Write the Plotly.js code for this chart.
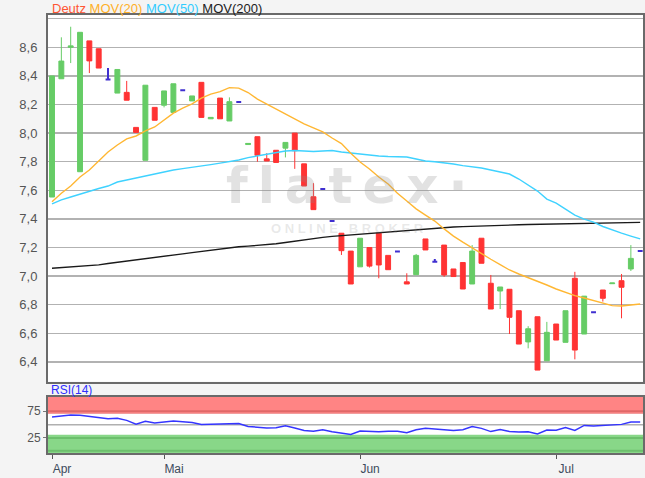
<!DOCTYPE html>
<html>
<head>
<meta charset="utf-8">
<script src="https://cdn.plot.ly/plotly-3.0.1.min.js"></script>
<style>
  html, body { margin: 0; padding: 0; background: #f4f4f4; }
  #chart { width: 645px; height: 478px; }
</style>
</head>
<body>
<div id="chart"></div>
<script>
// ---- data (trading-day index 0..63) ----
const openP  = [7.553,8.38,8.60,7.73,8.645,8.59,8.375,8.28,8.285,8.04,7.81,8.18,8.195,8.145,8.30,8.225,8.355,8.10,8.245,8.085,8.218,7.92,7.975,7.82,7.88,7.895,8.00,7.785,7.555,7.61,7.385,7.30,7.175,7.065,7.20,7.30,7.145,7.173,6.96,7.01,7.26,7.10,7.217,7.05,7.095,6.945,7.265,6.95,6.896,6.908,6.758,6.54,6.716,6.408,6.665,6.537,6.985,6.595,6.747,6.903,6.947,6.968,7.05,7.176];
const highP  = [8.40,8.67,8.744,8.705,8.645,8.59,8.455,8.445,8.365,8.04,8.335,8.18,8.295,8.345,8.30,8.26,8.355,8.11,8.245,8.25,8.218,7.928,7.975,7.86,7.88,7.935,8.00,7.785,7.65,7.61,7.385,7.30,7.175,7.265,7.20,7.30,7.145,7.173,7.02,7.155,7.26,7.12,7.217,7.05,7.095,7.217,7.265,7.008,6.924,6.908,6.758,6.65,6.716,6.68,6.665,6.758,7.03,6.86,6.747,6.903,6.952,7.015,7.217,7.176];
const lowP   = [7.553,8.38,8.49,7.73,8.42,8.455,8.375,8.28,8.23,8.005,7.81,8.09,8.18,8.145,8.30,8.225,8.11,8.10,8.10,8.085,8.218,7.92,7.80,7.805,7.795,7.83,7.75,7.63,7.465,7.61,7.385,7.148,6.945,7.065,7.06,6.985,7.045,7.173,6.945,7.01,7.183,7.10,6.995,6.997,6.91,6.945,7.09,6.77,6.77,6.595,6.525,6.495,6.343,6.408,6.553,6.537,6.418,6.595,6.747,6.822,6.947,6.705,7.036,7.176];
const closeP = [8.40,8.504,8.61,8.705,8.505,8.455,8.375,8.445,8.23,8.005,8.335,8.09,8.295,8.345,8.30,8.26,8.11,8.11,8.10,8.22,8.218,7.928,7.845,7.805,7.795,7.935,7.877,7.63,7.465,7.61,7.385,7.178,6.945,7.265,7.07,7.078,7.045,7.173,6.945,7.145,7.183,7.10,7.008,6.997,6.91,7.175,7.09,6.77,6.924,6.712,6.525,6.632,6.343,6.607,6.553,6.758,6.483,6.86,6.747,6.845,6.952,6.922,7.124,7.176];

const mov20  = [7.52,7.58,7.63,7.693,7.742,7.805,7.868,7.917,7.96,7.98,8.015,8.043,8.092,8.14,8.175,8.204,8.245,8.273,8.29,8.318,8.315,8.284,8.238,8.204,8.168,8.134,8.10,8.064,8.036,8.008,7.966,7.927,7.86,7.798,7.749,7.693,7.644,7.58,7.525,7.47,7.427,7.385,7.33,7.28,7.238,7.196,7.16,7.118,7.081,7.043,7.015,6.99,6.966,6.938,6.91,6.885,6.864,6.847,6.829,6.812,6.794,6.791,6.798,6.805];
const mov50  = [7.505,7.533,7.553,7.574,7.595,7.613,7.63,7.658,7.672,7.686,7.70,7.714,7.731,7.742,7.752,7.763,7.773,7.78,7.79,7.801,7.812,7.829,7.84,7.854,7.864,7.875,7.878,7.875,7.871,7.875,7.878,7.868,7.86,7.854,7.847,7.84,7.836,7.835,7.833,7.819,7.805,7.80,7.794,7.784,7.773,7.765,7.756,7.742,7.728,7.714,7.679,7.637,7.595,7.539,7.511,7.469,7.427,7.399,7.378,7.347,7.322,7.301,7.28,7.26];
const mov200 = [7.055,7.059,7.063,7.067,7.071,7.079,7.088,7.097,7.107,7.116,7.124,7.132,7.14,7.148,7.156,7.164,7.173,7.182,7.19,7.198,7.205,7.21,7.214,7.218,7.226,7.235,7.245,7.255,7.264,7.271,7.278,7.283,7.289,7.295,7.302,7.308,7.313,7.318,7.322,7.328,7.332,7.336,7.34,7.343,7.346,7.349,7.352,7.354,7.356,7.358,7.359,7.361,7.362,7.364,7.365,7.367,7.368,7.369,7.37,7.372,7.373,7.374,7.375,7.376];
const rsi14  = [64.5,66.5,68,67.5,65.5,63,61.2,62,58,51,56.5,53,55,57,55.5,54,50.2,50.4,50.7,51.5,52.2,46.5,44.5,43.8,44,48,43.8,39,37.5,40.5,36.5,33.5,31.5,38,37,36.5,37.5,37.5,35,40.5,43.3,41.5,40,39,40.5,46.3,43,37,41,37,36,36.8,32.5,40,39.5,44.5,39,48.5,47.5,48.5,50,50.5,55,55];

const monthTickIdx = [0, 12, 33, 54];
const monthLabels  = ['Apr', 'Mai', 'Jun', 'Jul'];
const priceTicks   = [6.4, 6.6, 6.8, 7.0, 7.2, 7.4, 7.6, 7.8, 8.0, 8.2, 8.4, 8.6, 8.8];
const rsiTicks     = [25, 75];

// ---- build ----
const idx = openP.map((_, i) => i);
const isDoji = idx.map(i => openP[i] === closeP[i]);
const pick = (arr, want) => idx.filter(i => isDoji[i] === want).map(i => arr[i]);

const FONT = 'Liberation Sans, Arial, sans-serif';
const GREEN = '#66cc66', RED = '#ff3333', DOJI = '#3f2fd0';

const traces = [
  {
    type: 'candlestick', xaxis: 'x2', yaxis: 'y2',
    x: pick(idx, false), open: pick(openP, false), high: pick(highP, false),
    low: pick(lowP, false), close: pick(closeP, false),
    increasing: { fillcolor: GREEN, line: { color: GREEN, width: 1 } },
    decreasing: { fillcolor: RED, line: { color: RED, width: 1 } },
    whiskerwidth: 0, showlegend: false, hoverinfo: 'skip'
  },
  {
    type: 'candlestick', xaxis: 'x2', yaxis: 'y2',
    x: pick(idx, true), open: pick(openP, true), high: pick(highP, true),
    low: pick(lowP, true), close: pick(closeP, true),
    increasing: { fillcolor: DOJI, line: { color: DOJI, width: 2 } },
    decreasing: { fillcolor: DOJI, line: { color: DOJI, width: 2 } },
    whiskerwidth: 0, showlegend: false, hoverinfo: 'skip'
  },
  { type: 'scatter', mode: 'lines', xaxis: 'x2', yaxis: 'y2', x: idx, y: mov200,
    line: { color: '#1a1a1a', width: 1.4 }, hoverinfo: 'skip', showlegend: false },
  { type: 'scatter', mode: 'lines', xaxis: 'x2', yaxis: 'y2', x: idx, y: mov50,
    line: { color: '#3fd2ff', width: 1.4 }, hoverinfo: 'skip', showlegend: false },
  { type: 'scatter', mode: 'lines', xaxis: 'x2', yaxis: 'y2', x: idx, y: mov20,
    line: { color: '#ffb733', width: 1.4 }, hoverinfo: 'skip', showlegend: false },
  { type: 'scatter', mode: 'lines', xaxis: 'x', yaxis: 'y', x: idx, y: rsi14,
    line: { color: '#3535ff', width: 1.5 }, hoverinfo: 'skip', showlegend: false }
];

const AX_LINE = '#6a6a6a';
const xRange = [-0.43, 63.3];

const layout = {
  width: 645, height: 478,
  margin: { l: 48, r: 2, t: 15, b: 25 },
  paper_bgcolor: '#f4f4f4', plot_bgcolor: '#ffffff',
  font: { family: FONT, size: 13, color: '#555' },
  showlegend: false, boxgap: 0.25,
  xaxis: {
    domain: [0, 1], anchor: 'y', range: xRange,
    tickvals: monthTickIdx, ticktext: monthLabels,
    ticks: 'outside', ticklen: 4, tickcolor: '#555', tickwidth: 1,
    ticklabelshift: 10,
    tickfont: { family: FONT, size: 12, color: '#3d4b5c' },
    showgrid: false, zeroline: false,
    showline: true, linecolor: AX_LINE, linewidth: 2, mirror: true,
    rangeslider: { visible: false }, fixedrange: true
  },
  xaxis2: {
    anchor: 'y2', matches: 'x', range: xRange,
    showticklabels: false, ticks: '', showgrid: false, zeroline: false,
    showline: true, linecolor: AX_LINE, linewidth: 2, mirror: true,
    rangeslider: { visible: false }, fixedrange: true
  },
  yaxis: {
    domain: [0, 0.1279], anchor: 'x', range: [-3.1, 101.8],
    tickvals: rsiTicks, ticktext: rsiTicks.map(String),
    ticks: 'outside', ticklen: 3, tickcolor: '#777',
    tickfont: { family: FONT, size: 12, color: '#555' },
    showgrid: false, zeroline: false,
    showline: true, linecolor: AX_LINE, linewidth: 2, mirror: true, fixedrange: true
  },
  yaxis2: {
    domain: [0.1632, 1], anchor: 'x2', range: [6.263, 8.826],
    tickvals: priceTicks,
    ticktext: priceTicks.map(v => v >= 8.79 ? '' : v.toFixed(1).replace('.', ',')),
    ticks: '', ticklabelstandoff: 6,
    tickfont: { family: FONT, size: 13, color: '#555' },
    showgrid: true, gridcolor: '#b2b2b2', gridwidth: 1.5, zeroline: false,
    showline: true, linecolor: AX_LINE, linewidth: 2, mirror: true, fixedrange: true
  },
  shapes: [
    { type: 'rect', xref: 'x domain', yref: 'y', x0: 0, x1: 1, y0: 71, y1: 101.8,
      fillcolor: '#ff8484', line: { width: 0 }, layer: 'below' },
    { type: 'line', xref: 'x domain', yref: 'y', x0: 0, x1: 1, y0: 75, y1: 75,
      line: { color: '#e06868', width: 2 }, layer: 'below' },
    { type: 'line', xref: 'x domain', yref: 'y', x0: 0, x1: 1, y0: 71, y1: 71,
      line: { color: '#f09a9a', width: 1 }, layer: 'below' },
    { type: 'rect', xref: 'x domain', yref: 'y', x0: 0, x1: 1, y0: -3.1, y1: 31,
      fillcolor: '#88d788', line: { width: 0 }, layer: 'below' },
    { type: 'line', xref: 'x domain', yref: 'y', x0: 0, x1: 1, y0: 25, y1: 25,
      line: { color: '#6cbf6c', width: 2 }, layer: 'below' },
    { type: 'line', xref: 'x domain', yref: 'y', x0: 0, x1: 1, y0: 1, y1: 1,
      line: { color: '#6cbf6c', width: 2 }, layer: 'below' },
    { type: 'line', xref: 'x domain', yref: 'y', x0: 0, x1: 1, y0: 50, y1: 50,
      line: { color: '#b0b0b0', width: 1.5 }, layer: 'below' }
  ],
  annotations: [
    { xref: 'paper', yref: 'paper', x: 0.003, y: 1.0137, xanchor: 'left', yanchor: 'middle',
      showarrow: false, font: { family: FONT, size: 13 },
      text: '<span style="color:#ff5533">Deutz</span> <span style="color:#ffb028">MOV(20)</span> <span style="color:#33ccff">MOV(50)</span> <span style="color:#222">MOV(200)</span>' },
    { xref: 'paper', yref: 'paper', x: 0.002, y: 0.1438, xanchor: 'left', yanchor: 'middle',
      showarrow: false, font: { family: FONT, size: 12, color: '#2e2eff' }, text: 'RSI(14)' },
    { xref: 'paper', yref: 'paper', x: 0.503, y: 0.61, xanchor: 'center', yanchor: 'middle',
      showarrow: false, font: { family: 'DejaVu Sans, sans-serif', size: 50, weight: 'bold', color: 'rgba(140,140,140,0.25)' },
      text: 'f\u2009l\u2009a\u2009t\u2009e\u2009x\u2009\u00b7' },
    { xref: 'paper', yref: 'paper', x: 0.503, y: 0.513, xanchor: 'center', yanchor: 'middle',
      showarrow: false, font: { family: FONT, size: 13, weight: 'bold', color: 'rgba(140,140,140,0.2)' },
      text: 'O N L I N E   B R O K E R' }
  ]
};

Plotly.newPlot('chart', traces, layout, { staticPlot: true, displayModeBar: false });
</script>
</body>
</html>
